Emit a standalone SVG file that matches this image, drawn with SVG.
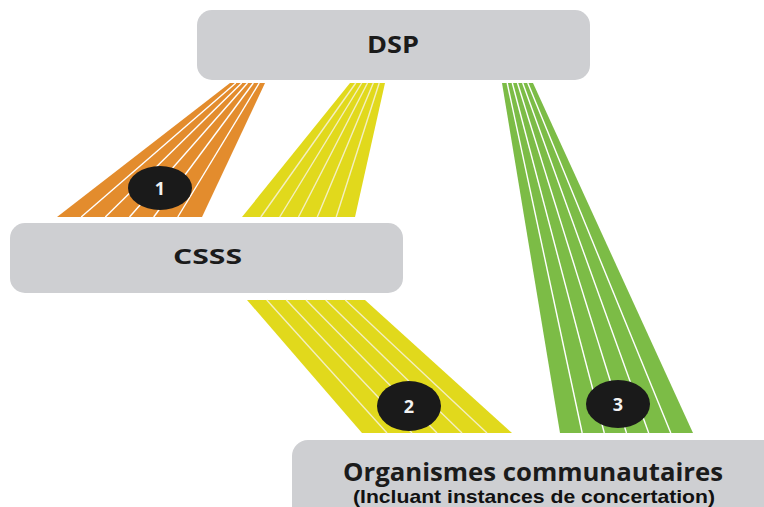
<svg xmlns="http://www.w3.org/2000/svg" width="764" height="507" viewBox="0 0 764 507">
  <style>
    .box { fill: #cecfd2; }
    .lbl { font-family: "Open Sans", "Liberation Sans", sans-serif; font-weight: 700; fill: #1b1b1b; text-anchor: middle; }
    .sub { font-family: "Liberation Sans", Arial, sans-serif; font-weight: 700; fill: #111111; text-anchor: middle; }
    .lane { stroke-width: 1.4; fill: none; }
    .lw { stroke: #ffffff; }
    .ly { stroke: #f4efc0; }
    .badge { fill: #1a1a1a; }
    .num { font-family: "Open Sans", "Liberation Sans", sans-serif; font-weight: 700; font-size: 18px; fill: #f2f2f2; text-anchor: middle; }
  </style>
  <rect width="764" height="507" fill="#ffffff"/>
  <g id="connectors">
    <g id="band1">
      <polygon points="230,83 265,83 202,217 57,217" fill="#e38c2d"/>
      <g class="lane lw">
        <line x1="235.8" y1="83" x2="81.2" y2="217"/>
        <line x1="241.7" y1="83" x2="105.3" y2="217"/>
        <line x1="247.5" y1="83" x2="129.5" y2="217"/>
        <line x1="253.3" y1="83" x2="153.7" y2="217"/>
        <line x1="259.2" y1="83" x2="177.8" y2="217"/>
      </g>
      <ellipse class="badge" cx="160" cy="188" rx="32" ry="22"/>
      <text class="num" x="160" y="195">1</text>
    </g>
    <g id="band2a">
      <polygon points="350,83 385,83 355,217 242,217" fill="#e1d91c"/>
      <g class="lane ly">
        <line x1="355.8" y1="83" x2="260.8" y2="217"/>
        <line x1="361.7" y1="83" x2="279.7" y2="217"/>
        <line x1="367.5" y1="83" x2="298.5" y2="217"/>
        <line x1="373.3" y1="83" x2="317.3" y2="217"/>
        <line x1="379.2" y1="83" x2="336.2" y2="217"/>
      </g>
    </g>
    <g id="band2b">
      <polygon points="247,300 365,300 512,433 362,433" fill="#e1d91c"/>
      <g class="lane ly">
        <line x1="266.7" y1="300" x2="387" y2="433"/>
        <line x1="286.3" y1="300" x2="412" y2="433"/>
        <line x1="306" y1="300" x2="437" y2="433"/>
        <line x1="325.7" y1="300" x2="462" y2="433"/>
        <line x1="345.3" y1="300" x2="487" y2="433"/>
      </g>
      <ellipse class="badge" cx="409" cy="406" rx="32" ry="25"/>
      <text class="num" x="409" y="413">2</text>
    </g>
    <g id="band3">
      <polygon points="502,83 533,83 693,433 560,433" fill="#7cbc46"/>
      <g class="lane lw">
        <line x1="507.2" y1="83" x2="582.2" y2="433"/>
        <line x1="512.3" y1="83" x2="604.3" y2="433"/>
        <line x1="517.5" y1="83" x2="626.5" y2="433"/>
        <line x1="522.7" y1="83" x2="648.7" y2="433"/>
        <line x1="527.8" y1="83" x2="670.8" y2="433"/>
      </g>
      <ellipse class="badge" cx="618" cy="404" rx="32" ry="24"/>
      <text class="num" x="618" y="411">3</text>
    </g>
  </g>
  <g id="node-dsp">
    <rect class="box" x="197" y="10" width="393" height="70" rx="15"/>
    <text class="lbl" x="393" y="53" font-size="23" textLength="52" lengthAdjust="spacingAndGlyphs">DSP</text>
  </g>
  <g id="node-csss">
    <rect class="box" x="10" y="223" width="393" height="70" rx="15"/>
    <text class="lbl" x="207.5" y="264" font-size="21" textLength="69" lengthAdjust="spacingAndGlyphs">CSSS</text>
  </g>
  <g id="node-organismes">
    <rect class="box" x="292" y="440" width="490" height="90" rx="16"/>
    <text class="lbl" x="533" y="480.5" font-size="24.5" textLength="380" lengthAdjust="spacingAndGlyphs">Organismes communautaires</text>
    <text class="sub" x="534" y="503" font-size="18.5" textLength="362" lengthAdjust="spacingAndGlyphs">(Incluant instances de concertation)</text>
  </g>
</svg>
